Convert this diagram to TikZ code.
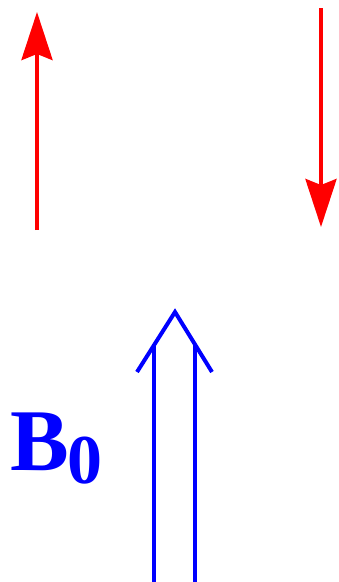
\documentclass[tikz,border=0pt]{standalone}
\usepackage{fontspec}
\setmainfont{Liberation Serif}
\usetikzlibrary{arrows.meta}
\begin{document}
\begin{tikzpicture}[x=1pt,y=-1pt,
  spin/.style={draw=red,line width=4pt,-{Stealth[length=48pt,width=31pt,inset=6pt]}},
  field/.style={draw=blue,line width=4pt},
  lbl/.style={text=blue,font=\bfseries,inner sep=0pt,anchor=base west}]
\useasboundingbox (0,0) rectangle (339,582);
% red spin arrows
\coordinate (upS) at (37,230);
\coordinate (upE) at (37,12);
\coordinate (dnS) at (321,8);
\coordinate (dnE) at (321,227);
\draw[spin] (upS) -- (upE);
\draw[spin] (dnS) -- (dnE);
% blue B0 double arrow
\coordinate (apex) at (175,312);
\coordinate (cl) at (137,372);
\coordinate (cr) at (212,372);
\coordinate (lt) at (154,344);
\coordinate (lb) at (154,584);
\coordinate (rt) at (195,344);
\coordinate (rb) at (195,584);
\draw[field] (cl) -- (apex) -- (cr);
\draw[field] (lt) -- (lb);
\draw[field] (rt) -- (rb);
% label
\node[lbl,font=\bfseries\fontsize{88}{88}\selectfont] (B) at (10,470) {B};
\node[lbl,font=\bfseries\fontsize{70}{70}\selectfont] (zero) at (67,483) {0};
\end{tikzpicture}
\end{document}
